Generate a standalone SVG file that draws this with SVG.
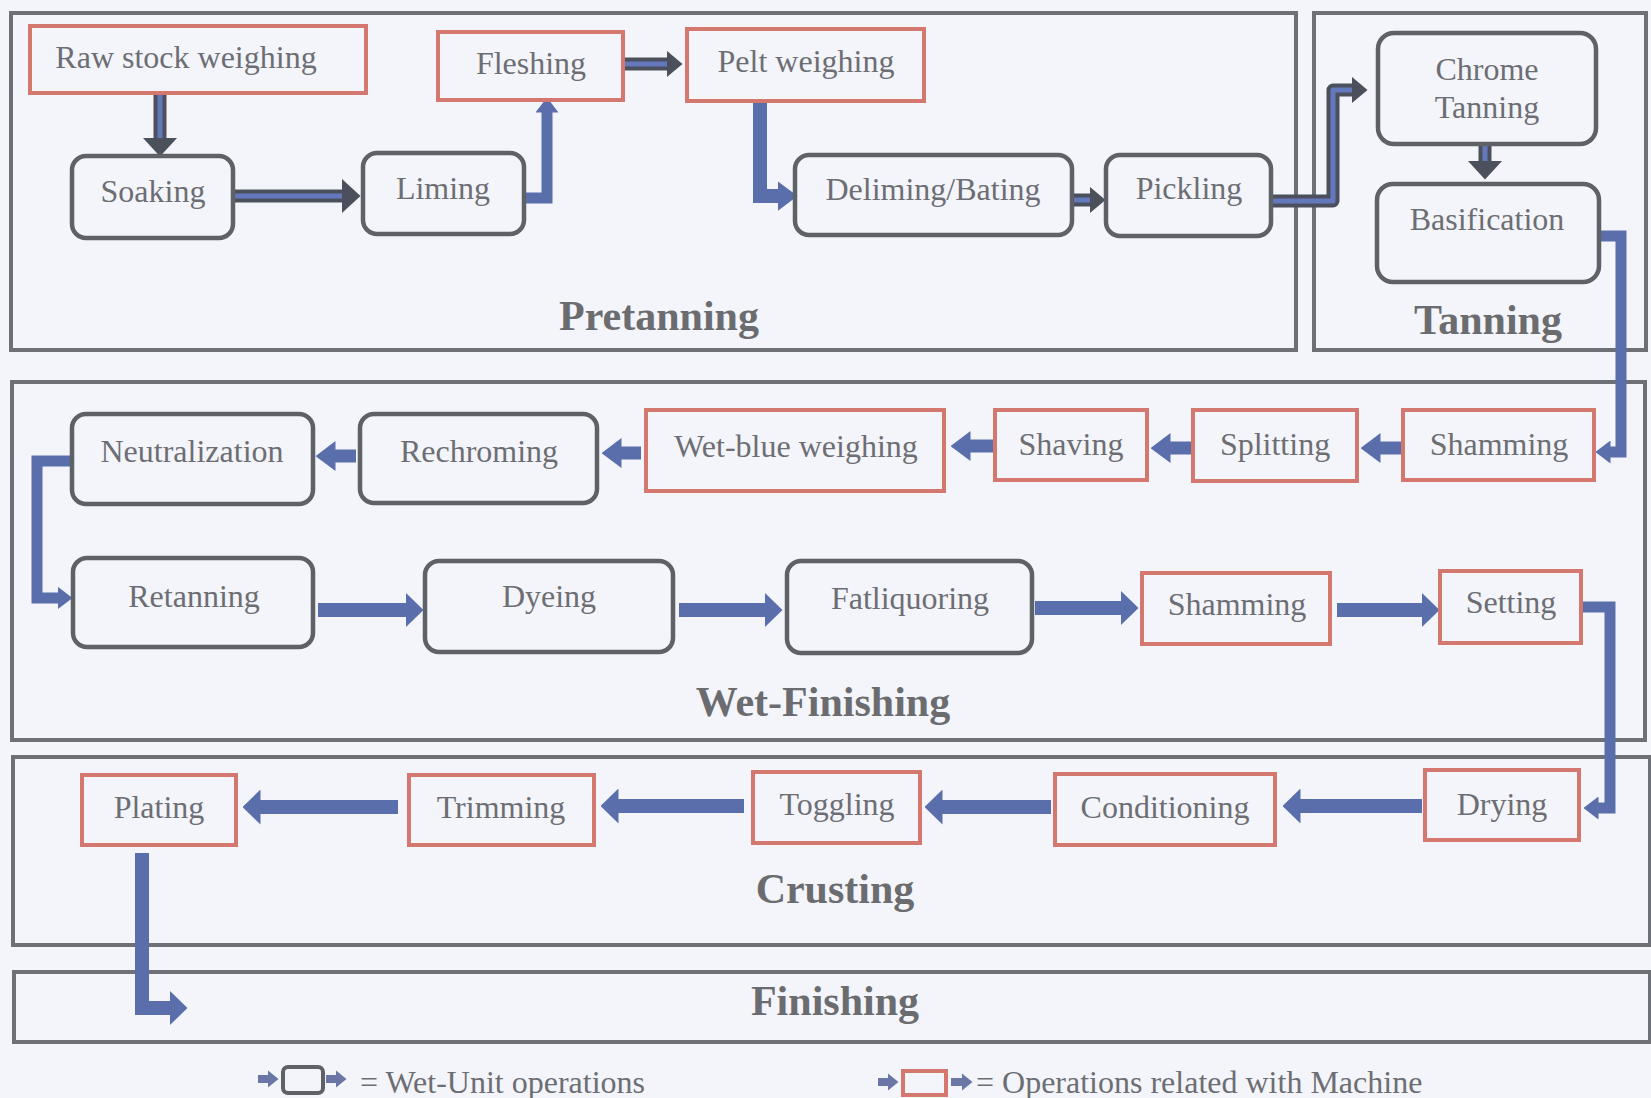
<svg xmlns="http://www.w3.org/2000/svg" width="1651" height="1098" viewBox="0 0 1651 1098">
<style>
.frame{fill:none;stroke:#6d7076;stroke-width:4}
.red{fill:none;stroke:#d4776f;stroke-width:4}
.gray{fill:none;stroke:#5e6166;stroke-width:4.5}
.t{font-family:"Liberation Serif","Times New Roman",serif;font-size:32px;fill:#6d6e74;text-anchor:middle}
.title{font-family:"Liberation Serif","Times New Roman",serif;font-size:42px;font-weight:bold;fill:#6b6c70;text-anchor:middle}
.leg{font-family:"Liberation Serif","Times New Roman",serif;font-size:32px;fill:#6d6e74}
.b{fill:none;stroke:#5a6eab;stroke-linejoin:miter}
.bw{stroke-width:14}
.bn{stroke-width:11}
.d{fill:none;stroke:#4b505c;stroke-width:13}
.di{fill:none;stroke:#6479bd;stroke-width:5}
</style>
<defs>
<marker id="dA" markerUnits="userSpaceOnUse" viewBox="0 0 19 35" markerWidth="19" markerHeight="35" refX="0.5" refY="17.5" orient="auto"><path d="M0,0 L19,17.5 L0,35 z" fill="#4b505c"/></marker>
<marker id="dB" markerUnits="userSpaceOnUse" viewBox="0 0 16 27" markerWidth="16" markerHeight="27" refX="0.5" refY="13.5" orient="auto"><path d="M0,0 L16,13.5 L0,27 z" fill="#4b505c"/></marker>
<marker id="bA" markerUnits="userSpaceOnUse" viewBox="0 0 15 23" markerWidth="15" markerHeight="23" refX="0.5" refY="11.5" orient="auto"><path d="M0,0 L15,11.5 L0,23 z" fill="#5a6eab"/></marker>
<marker id="bB" markerUnits="userSpaceOnUse" viewBox="0 0 20 30" markerWidth="20" markerHeight="30" refX="0.5" refY="15" orient="auto"><path d="M0,0 L20,15 L0,30 z" fill="#5a6eab"/></marker>
<marker id="bC" markerUnits="userSpaceOnUse" viewBox="0 0 18 35" markerWidth="18" markerHeight="35" refX="0.5" refY="17.5" orient="auto"><path d="M0,0 L18,17.5 L0,35 z" fill="#5a6eab"/></marker>
<marker id="lg" markerUnits="userSpaceOnUse" viewBox="0 0 11 18" markerWidth="11" markerHeight="18" refX="0.5" refY="9" orient="auto"><path d="M0,0 L11,9 L0,18 z" fill="#6a77a6"/></marker>
</defs>
<rect width="1651" height="1098" fill="#f3f5fa"/>

<g id="frames">
<rect class="frame" x="11" y="13" width="1285" height="337"/>
<rect class="frame" x="1314" y="13" width="332" height="337"/>
<rect class="frame" x="12" y="382" width="1633" height="358"/>
<rect class="frame" x="13" y="757" width="1637" height="188"/>
<rect class="frame" x="14" y="972" width="1636" height="70"/>
<text class="title" x="659" y="330">Pretanning</text>
<text class="title" x="1488" y="334">Tanning</text>
<text class="title" x="823" y="716">Wet-Finishing</text>
<text class="title" x="835" y="903">Crusting</text>
<text class="title" x="835" y="1015">Finishing</text>
</g>

<g id="connectors">
<path class="d" d="M160,93 V138" marker-end="url(#dA)"/><path class="di" d="M160,93 V138"/>
<path class="d" d="M233,196 H342" marker-end="url(#dA)"/><path class="di" d="M233,196 H342"/>
<path class="b bn" d="M524,198 H547 V112" marker-end="url(#bA)"/>
<path class="d" d="M624,64 H667" marker-end="url(#dB)"/><path class="di" d="M624,64 H667"/>
<path class="b" stroke-width="14" d="M760,101 V196 H778" marker-end="url(#bB)"/>
<path class="d" d="M1072,200 H1090" marker-end="url(#dB)"/><path class="di" d="M1072,200 H1090"/>
<path class="d" stroke-linejoin="round" d="M1271,201 H1333 V90 H1352" marker-end="url(#dB)"/><path class="di" stroke-linejoin="round" d="M1271,201 H1333 V90 H1352"/>
<path class="d" stroke-width="15" d="M1485,144 V161" marker-end="url(#dA)"/><path class="di" d="M1485,144 V161"/>
<path class="b bn" d="M1600,236 H1621 V452 H1610" marker-end="url(#bA)"/>
<path class="b" stroke-width="13" d="M1402,448 H1380" marker-end="url(#bB)"/>
<path class="b" stroke-width="13" d="M1192,448 H1170" marker-end="url(#bB)"/>
<path class="b" stroke-width="13" d="M994,446 H970" marker-end="url(#bB)"/>
<path class="b" stroke-width="13" d="M641,453 H621" marker-end="url(#bB)"/>
<path class="b" stroke-width="13" d="M356,456 H335" marker-end="url(#bB)"/>
<path class="b bn" d="M71,461 H37 V598 H58" marker-end="url(#bA)"/>
<path class="b bw" d="M318,610 H406" marker-end="url(#bC)"/>
<path class="b bw" d="M679,610 H765" marker-end="url(#bC)"/>
<path class="b bw" d="M1035,608 H1121" marker-end="url(#bC)"/>
<path class="b bw" d="M1337,610 H1422" marker-end="url(#bC)"/>
<path class="b bn" d="M1581,607 H1610 V808 H1598" marker-end="url(#bA)"/>
<path class="b bw" d="M1422,806 H1300" marker-end="url(#bC)"/>
<path class="b bw" d="M1051,807 H942" marker-end="url(#bC)"/>
<path class="b bw" d="M744,806 H618" marker-end="url(#bC)"/>
<path class="b bw" d="M398,807 H260" marker-end="url(#bC)"/>
<path class="b bw" d="M142,853 V1008 H170" marker-end="url(#bC)"/>
</g>

<g id="n-raw"><rect class="red" x="30" y="26" width="336" height="67"/><text class="t" x="186" y="68">Raw stock weighing</text></g>
<g id="n-fleshing"><rect class="red" x="438" y="32" width="185" height="68"/><text class="t" x="531" y="74">Fleshing</text></g>
<g id="n-pelt"><rect class="red" x="687" y="29" width="237" height="72"/><text class="t" x="806" y="72">Pelt weighing</text></g>
<g id="n-soaking"><rect class="gray" x="72" y="156" width="161" height="82" rx="14"/><text class="t" x="153" y="202">Soaking</text></g>
<g id="n-liming"><rect class="gray" x="363" y="153" width="161" height="81" rx="14"/><text class="t" x="443" y="199">Liming</text></g>
<g id="n-deliming"><rect class="gray" x="795" y="155" width="277" height="80" rx="14"/><text class="t" x="933" y="200">Deliming/Bating</text></g>
<g id="n-pickling"><rect class="gray" x="1106" y="155" width="165" height="81" rx="14"/><text class="t" x="1189" y="199">Pickling</text></g>
<g id="n-chrome"><rect class="gray" x="1378" y="33" width="218" height="111" rx="16"/><text class="t" x="1487" y="80">Chrome</text><text class="t" x="1487" y="118">Tanning</text></g>
<g id="n-basification"><rect class="gray" x="1377" y="184" width="222" height="98" rx="16"/><text class="t" x="1487" y="230">Basification</text></g>

<g id="n-neutralization"><rect class="gray" x="72" y="414" width="241" height="90" rx="14"/><text class="t" x="192" y="462">Neutralization</text></g>
<g id="n-rechroming"><rect class="gray" x="360" y="414" width="237" height="89" rx="14"/><text class="t" x="479" y="462">Rechroming</text></g>
<g id="n-wetblue"><rect class="red" x="646" y="410" width="298" height="81"/><text class="t" x="796" y="457">Wet-blue weighing</text></g>
<g id="n-shaving"><rect class="red" x="995" y="410" width="152" height="70"/><text class="t" x="1071" y="455">Shaving</text></g>
<g id="n-splitting"><rect class="red" x="1193" y="410" width="164" height="71"/><text class="t" x="1275" y="455">Splitting</text></g>
<g id="n-shamming1"><rect class="red" x="1403" y="410" width="191" height="70"/><text class="t" x="1499" y="455">Shamming</text></g>

<g id="n-retanning"><rect class="gray" x="73" y="558" width="240" height="89" rx="14"/><text class="t" x="194" y="607">Retanning</text></g>
<g id="n-dyeing"><rect class="gray" x="425" y="561" width="248" height="91" rx="14"/><text class="t" x="549" y="607">Dyeing</text></g>
<g id="n-fatliquoring"><rect class="gray" x="787" y="561" width="245" height="92" rx="14"/><text class="t" x="910" y="609">Fatliquoring</text></g>
<g id="n-shamming2"><rect class="red" x="1142" y="573" width="188" height="71"/><text class="t" x="1237" y="615">Shamming</text></g>
<g id="n-setting"><rect class="red" x="1440" y="571" width="141" height="72"/><text class="t" x="1511" y="613">Setting</text></g>

<g id="n-plating"><rect class="red" x="82" y="775" width="154" height="70"/><text class="t" x="159" y="818">Plating</text></g>
<g id="n-trimming"><rect class="red" x="409" y="775" width="185" height="70"/><text class="t" x="501" y="818">Trimming</text></g>
<g id="n-toggling"><rect class="red" x="753" y="772" width="167" height="71"/><text class="t" x="837" y="815">Toggling</text></g>
<g id="n-conditioning"><rect class="red" x="1055" y="774" width="220" height="71"/><text class="t" x="1165" y="818">Conditioning</text></g>
<g id="n-drying"><rect class="red" x="1425" y="770" width="154" height="70"/><text class="t" x="1502" y="815">Drying</text></g>

<g id="legend">
<path d="M258,1079 H268" stroke="#6a77a6" stroke-width="8" marker-end="url(#lg)"/>
<rect x="283" y="1067" width="40" height="26" rx="5" fill="none" stroke="#5e6166" stroke-width="4"/>
<path d="M326,1079 H336" stroke="#6a77a6" stroke-width="8" marker-end="url(#lg)"/>
<text class="leg" x="360" y="1093">= Wet-Unit operations</text>
<path d="M878,1082 H888" stroke="#6a77a6" stroke-width="8" marker-end="url(#lg)"/>
<rect x="903" y="1071" width="43" height="24" fill="none" stroke="#d4776f" stroke-width="4"/>
<path d="M951,1082 H962" stroke="#6a77a6" stroke-width="8" marker-end="url(#lg)"/>
<text class="leg" x="976" y="1093">= Operations related with Machine</text>
</g>
</svg>
